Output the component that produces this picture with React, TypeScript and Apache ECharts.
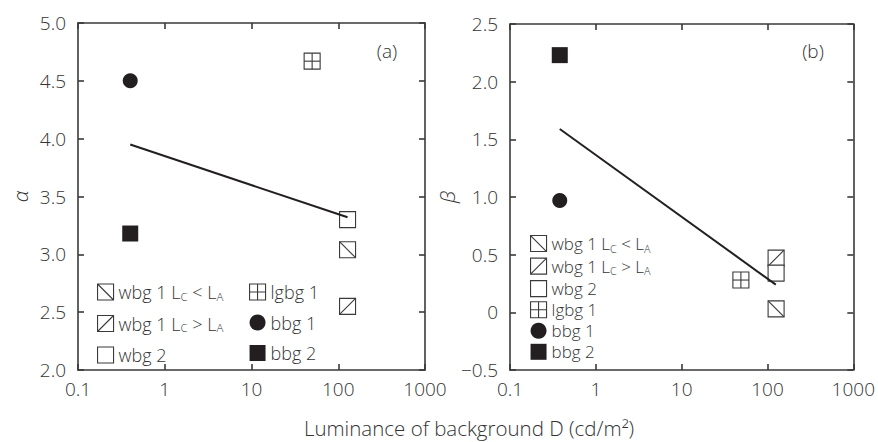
import React, { useEffect, useRef } from 'react';
import * as echarts from 'echarts';

// ---- data ----
const seriesNames = ['wbg 1 Lc<La', 'wbg 1 Lc>La', 'wbg 2', 'lgbg 1', 'bbg 1', 'bbg 2'];
const markerKinds = ['back', 'slash', 'empty', 'cross', 'circle', 'filled'];
const legendLabels = [
  '{n|wbg 1 L}{s|C}{n| < L}{s|A}',
  '{n|wbg 1 L}{s|C}{n| > L}{s|A}',
  '{n|wbg 2}',
  '{n|lgbg 1}',
  '{n|bbg 1}',
  '{n|bbg 2}',
];

// panel (a): alpha vs luminance
const alphaLuminance = [128, 128, 128, 50, 0.4, 0.4];
const alphaValues = [3.04, 2.55, 3.3, 4.67, 4.5, 3.18];
const alphaFitX = [0.4, 128];
const alphaFitY = [3.95, 3.32];

// panel (b): beta vs luminance
const betaLuminance = [126, 126, 126, 49, 0.38, 0.38];
const betaValues = [0.03, 0.47, 0.34, 0.28, 0.97, 2.23];
const betaFitX = [0.38, 125];
const betaFitY = [1.59, 0.24];

const xAxisTitle = 'Luminance of background D (cd/m²)';
const panelLabels = ['(a)', '(b)'];
const yNames = ['α', 'β'];

const DARK = '#231f20';
const EDGE = '#3a3a3a';
const TEXT = '#333';
const FONT = '"Open Sans"';

const icons: Record<string, string> = {
  back: 'path://M0,0H16V16H0Z M0,0L16,16',
  slash: 'path://M0,0H16V16H0Z M0,16L16,0',
  empty: 'path://M0,0H16V16H0Z',
  cross: 'path://M0,0H16V16H0Z M8,0V16 M0,8H16',
  circle: 'circle',
  filled: 'rect',
};

function makeRender(kind: string) {
  return (params: any, api: any) => {
    const p = api.coord([api.value(0), api.value(1)]);
    const h = 8;
    const x0 = p[0] - h, y0 = p[1] - h, x1 = p[0] + h, y1 = p[1] + h;
    const st = { stroke: EDGE, lineWidth: 1.1 };
    if (kind === 'circle') {
      return { type: 'circle', shape: { cx: p[0], cy: p[1], r: 7.5 }, style: { fill: DARK } };
    }
    const children: any[] = [
      {
        type: 'rect',
        shape: { x: x0, y: y0, width: 2 * h, height: 2 * h },
        style: kind === 'filled' ? { fill: DARK } : { fill: '#fff', ...st },
      },
    ];
    if (kind === 'back') children.push({ type: 'line', shape: { x1: x0, y1: y0, x2: x1, y2: y1 }, style: st });
    if (kind === 'slash') children.push({ type: 'line', shape: { x1: x0, y1: y1, x2: x1, y2: y0 }, style: st });
    if (kind === 'cross') {
      children.push({ type: 'line', shape: { x1: p[0], y1: y0, x2: p[0], y2: y1 }, style: st });
      children.push({ type: 'line', shape: { x1: x0, y1: p[1], x2: x1, y2: p[1] }, style: st });
    }
    return { type: 'group', children };
  };
}

function fmtX(v: number) {
  return String(Number(v.toPrecision(3)));
}
function fmtY(v: number) {
  if (Math.abs(v) < 1e-9) return '0';
  return v < 0 ? '\u2212' + Math.abs(v).toFixed(1) : v.toFixed(1);
}

function legendItem(i: number) {
  const k = markerKinds[i];
  const solid = k === 'circle' || k === 'filled';
  return {
    name: seriesNames[i],
    icon: icons[k],
    itemStyle: solid ? { color: DARK, borderWidth: 0 } : { color: '#fff', borderColor: EDGE, borderWidth: 1.1 },
  };
}

const makeRich = (size: number) => ({
  n: { fontSize: size, lineHeight: 20, color: TEXT, fontFamily: FONT, fontWeight: 300 },
  s: { fontSize: size * 0.64, lineHeight: 12, color: TEXT, fontFamily: FONT, fontWeight: 300, verticalAlign: 'bottom' },
});
const labelOf = (name: string) => legendLabels[seriesNames.indexOf(name)];

export default function App() {
  const ref = useRef<HTMLDivElement>(null);
  useEffect(() => {
    if (!ref.current) return;
    const chart = echarts.init(ref.current, undefined, { renderer: 'svg' });

    const grids = [
      { left: 78, top: 23, width: 347, height: 347 },
      { left: 510, top: 24, width: 345, height: 346 },
    ];
    const yRanges = [
      [2, 5],
      [-0.5, 2.5],
    ];

    const xAxes: any[] = [];
    const yAxes: any[] = [];
    [0, 1].forEach((g) => {
      const base = {
        type: 'log',
        logBase: 10,
        min: 0.1,
        max: 1000,
        gridIndex: g,
        axisLine: { show: true, onZero: false, lineStyle: { color: EDGE, width: 1.6 } },
        axisTick: { show: true, inside: true, length: 6, lineStyle: { color: EDGE, width: 1.6 } },
        splitLine: { show: false },
        minorTick: { show: false },
      };
      xAxes.push({
        ...base,
        position: 'bottom',
        axisLabel: { show: true, formatter: fmtX, color: TEXT, fontSize: 19, fontFamily: FONT, fontWeight: 300, margin: 9 },
      });
      xAxes.push({ ...base, position: 'top', axisLabel: { show: false } });
      const ybase = {
        type: 'value',
        min: yRanges[g][0],
        max: yRanges[g][1],
        interval: 0.5,
        gridIndex: g,
        axisLine: { show: true, onZero: false, lineStyle: { color: EDGE, width: 1.6 } },
        axisTick: { show: true, inside: true, length: 6, lineStyle: { color: EDGE, width: 1.6 } },
        splitLine: { show: false },
      };
      yAxes.push({
        ...ybase,
        position: 'left',
        name: yNames[g],
        nameLocation: 'middle',
        nameGap: 48,
        nameTextStyle: { fontSize: 21, fontStyle: 'italic', color: TEXT, fontFamily: FONT, fontWeight: 300 },
        axisLabel: { show: true, formatter: fmtY, color: TEXT, fontSize: 19, fontFamily: FONT, fontWeight: 300, margin: 12 },
      });
      yAxes.push({ ...ybase, position: 'right', axisLabel: { show: false } });
    });

    const series: any[] = [];
    const panels = [
      { xs: alphaLuminance, ys: alphaValues, fx: alphaFitX, fy: alphaFitY },
      { xs: betaLuminance, ys: betaValues, fx: betaFitX, fy: betaFitY },
    ];
    panels.forEach((pd, g) => {
      series.push({
        type: 'line',
        xAxisIndex: g * 2,
        yAxisIndex: g * 2,
        data: pd.fx.map((x, i) => [x, pd.fy[i]]),
        symbol: 'none',
        lineStyle: { color: DARK, width: 2 },
        z: 5,
        silent: true,
      });
      seriesNames.forEach((name, i) => {
        const k = markerKinds[i];
        const solid = k === 'circle' || k === 'filled';
        series.push({
          name,
          type: 'custom',
          xAxisIndex: g * 2,
          yAxisIndex: g * 2,
          dimensions: ['x', 'y'],
          encode: { x: 0, y: 1 },
          data: [[pd.xs[i], pd.ys[i]]],
          renderItem: makeRender(k),
          itemStyle: solid ? { color: DARK } : { color: '#fff', borderColor: EDGE },
          z: 3,
        });
      });
    });

    const legendBase = (size: number) => ({
      orient: 'vertical',
      padding: 0,
      itemWidth: 16,
      itemHeight: 16,
      selectedMode: false,
      formatter: labelOf,
      textStyle: { rich: makeRich(size), color: TEXT, fontSize: size, fontFamily: FONT },
    });

    chart.setOption({
      animation: false,
      backgroundColor: '#fff',
      grid: grids,
      xAxis: xAxes,
      yAxis: yAxes,
      legend: [
        { ...legendBase(18), left: 97, top: 283, itemGap: 12.5, data: [0, 1, 2].map(legendItem) },
        { ...legendBase(18), left: 249, top: 283, itemGap: 12.5, data: [3, 4, 5].map(legendItem) },
        { ...legendBase(17), left: 530, top: 235, itemGap: 4, data: [0, 1, 2, 3, 4, 5].map(legendItem) },
      ],
      graphic: [
        { type: 'text', x: 387, y: 51, style: { text: panelLabels[0], fill: TEXT, font: `300 19px ${FONT}`, textAlign: 'center', textVerticalAlign: 'middle' } },
        { type: 'text', x: 813, y: 51, style: { text: panelLabels[1], fill: TEXT, font: `300 19px ${FONT}`, textAlign: 'center', textVerticalAlign: 'middle' } },
        { type: 'text', x: 469, y: 428, style: { text: xAxisTitle, fill: TEXT, font: `300 20.5px ${FONT}`, textAlign: 'center', textVerticalAlign: 'middle' } },
      ],
      series,
    });
    return () => chart.dispose();
  }, []);
  return <div ref={ref} style={{ position: 'fixed', left: 0, top: 0, width: 878, height: 442 }} />;
}
